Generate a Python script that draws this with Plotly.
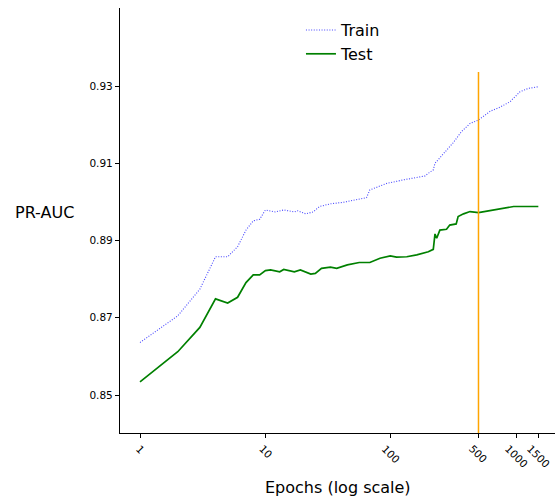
import math
import plotly.graph_objects as go

train_epochs = [1, 2, 3, 4, 5, 6, 7, 8, 9, 10, 12, 14, 17, 18, 21, 24, 27, 33, 42, 54, 64, 68, 73, 93,
                126, 161, 187, 199, 218, 225, 246, 270, 314, 366, 428, 500, 622, 741, 890, 1071, 1250, 1500]
train_auc = [0.8636, 0.8705, 0.8774, 0.8858, 0.8858, 0.8884, 0.8927, 0.8951, 0.8955, 0.8979, 0.8974, 0.8979,
             0.8974, 0.8977, 0.8969, 0.8974, 0.8988, 0.8995, 0.8999, 0.9007, 0.9011, 0.9031, 0.9035, 0.9048,
             0.9057, 0.9064, 0.9067, 0.9074, 0.9083, 0.9100, 0.9115, 0.9130, 0.9153, 0.9182, 0.9203, 0.9212,
             0.9235, 0.9245, 0.9259, 0.9285, 0.9294, 0.9298]

test_epochs = [1, 2, 3, 4, 5, 6, 7, 8, 9, 10, 11, 13, 14, 17, 19, 23, 25, 28, 33, 37, 45, 54, 56, 68, 82,
               99, 111, 134, 161, 199, 218, 225, 232, 246, 278, 295, 332, 344, 380, 428, 500, 585, 741, 953,
               1223, 1500]
test_auc = [0.8534, 0.8612, 0.8675, 0.8749, 0.8738, 0.8753, 0.8791, 0.8811, 0.8811, 0.8822, 0.8824, 0.8819,
            0.8825, 0.8819, 0.8824, 0.8813, 0.8815, 0.8828, 0.8831, 0.8828, 0.8837, 0.8841, 0.8843, 0.8843,
            0.8854, 0.8860, 0.8857, 0.8858, 0.8863, 0.8871, 0.8877, 0.8917, 0.8906, 0.8927, 0.8929, 0.8940,
            0.8943, 0.8962, 0.8969, 0.8975, 0.8972, 0.8976, 0.8982, 0.8988, 0.8988, 0.8988]

best_epoch = 500
best_line_top = 0.9336

x_tickvals = [1, 10, 100, 500, 1000, 1500]
x_ticktext = ["1", "10", "100", "500", "1000", "1500"]
y_tickvals = [0.85, 0.87, 0.89, 0.91, 0.93]
y_ticktext = ["0.85", "0.87", "0.89", "0.91", "0.93"]

FONT = "DejaVu Sans"

fig = go.Figure()
fig.add_trace(go.Scatter(x=train_epochs, y=train_auc, mode="lines", name="Train",
                         line=dict(color="rgba(40,40,255,0.85)", width=1.1, dash="1px,1.6px")))
fig.add_trace(go.Scatter(x=test_epochs, y=test_auc, mode="lines", name="Test",
                         line=dict(color="green", width=1.7)))

fig.add_shape(type="line", xref="x", yref="y", x0=best_epoch, x1=best_epoch,
              y0=0.84016, y1=best_line_top, line=dict(color="orange", width=1.5))

# rotated x tick labels centred under their ticks (like matplotlib rotation=-45, ha='center')
tick_annotations = [
    dict(text=t, xref="x", yref="paper", x=math.log10(v), y=-0.016,
         xanchor="center", yanchor="top", textangle=45, showarrow=False,
         font=dict(size=10.5, family=FONT))
    for v, t in zip(x_tickvals, x_ticktext)
]

fig.update_layout(
    width=555, height=497,
    margin=dict(l=120, r=0, t=8, b=64),
    paper_bgcolor="white", plot_bgcolor="white",
    font=dict(family=FONT, color="black"),
    showlegend=True,
    legend=dict(x=0.416, y=0.988, xanchor="left", yanchor="top", bgcolor="rgba(0,0,0,0)",
                font=dict(size=16, family=FONT), borderwidth=0),
    xaxis=dict(type="log", range=[-0.1595, 3.309], tickvals=x_tickvals, ticktext=x_ticktext,
               showticklabels=False, ticks="outside", ticklen=4, tickwidth=1, tickcolor="black",
               automargin=False,
               showline=True, linecolor="black", linewidth=1.2, showgrid=False, zeroline=False),
    yaxis=dict(range=[0.84016, 0.9502], tickvals=y_tickvals, ticktext=y_ticktext,
               ticks="outside", ticklen=4, tickwidth=1, tickcolor="black", automargin=False,
               showline=True, linecolor="black", linewidth=1.2, showgrid=False, zeroline=False,
               tickfont=dict(size=10.5, family=FONT)),
    annotations=tick_annotations + [
        dict(text="Epochs (log scale)", xref="paper", yref="paper", x=0.501, y=-0.1294,
             xanchor="center", yanchor="middle", showarrow=False, font=dict(size=16, family=FONT)),
        dict(text="PR-AUC", xref="paper", yref="paper", x=-0.1747, y=0.52,
             xanchor="center", yanchor="middle", showarrow=False, font=dict(size=16, family=FONT)),
    ],
)

fig.write_html("out.html", config={"displayModeBar": False},
               post_script="document.body.style.margin='0';document.body.style.overflow='hidden';")
